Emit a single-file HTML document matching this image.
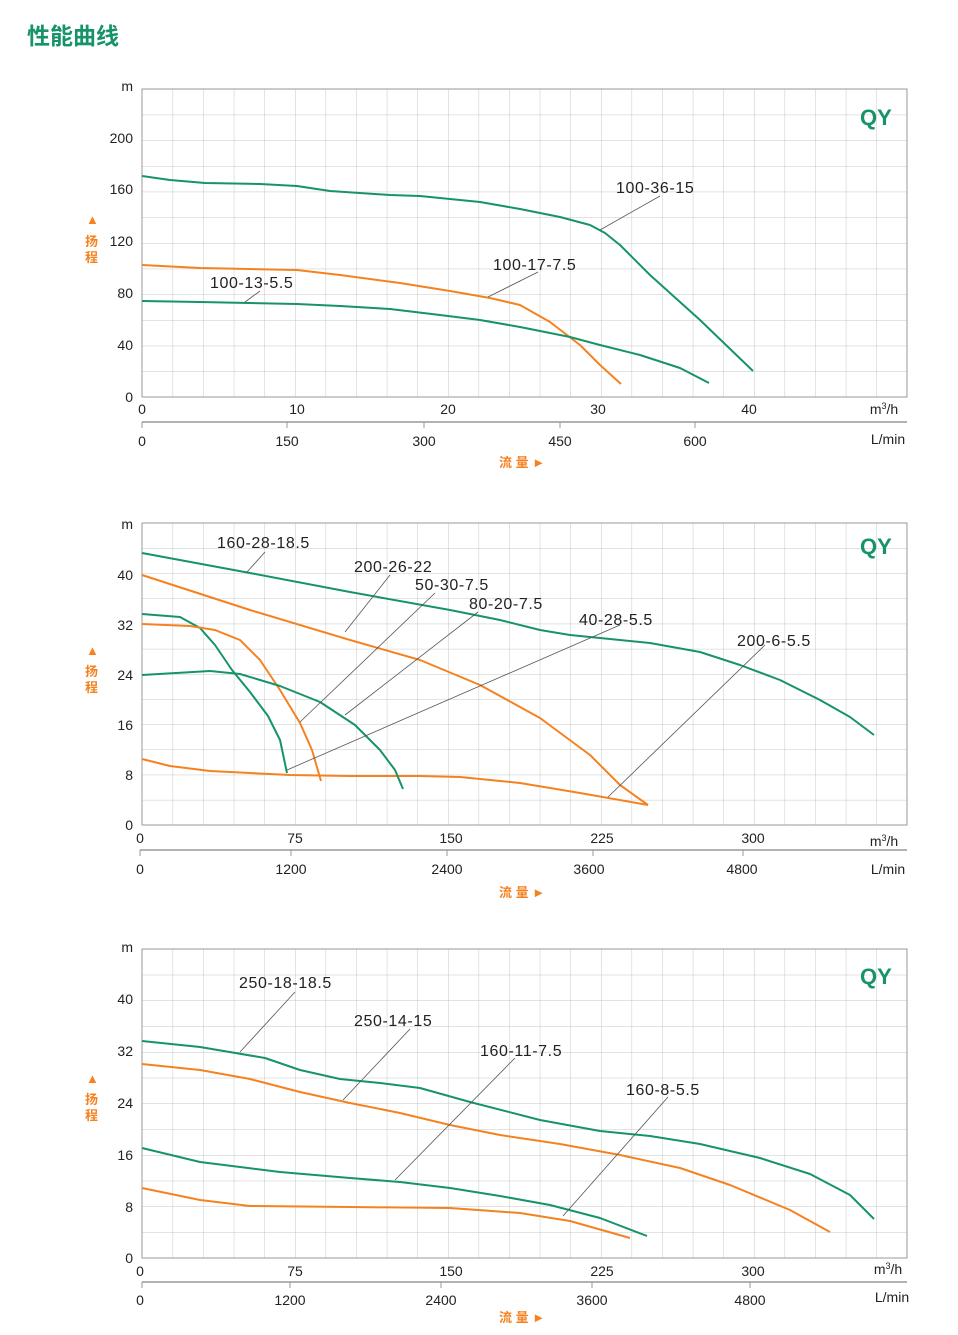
<!DOCTYPE html>
<html><head><meta charset="utf-8"><style>
html,body{margin:0;padding:0;background:#fff;}
svg{display:block;}
text{font-family:"Liberation Sans","Noto Sans CJK SC",sans-serif;fill:#222;}
.g{fill:none;stroke:#17936a;stroke-width:2;stroke-linejoin:round;}
.o{fill:none;stroke:#f58220;stroke-width:2;stroke-linejoin:round;}
.ld{stroke:#555;stroke-width:0.8;}
.yl{font-size:14px;text-anchor:end;}
.xl{font-size:14px;text-anchor:middle;}
.lb{font-size:16px;letter-spacing:0.6px;}
.qy{font-size:22px;font-weight:bold;fill:#17936a;}
.cn{font-size:13px;font-weight:bold;fill:#f58220;font-family:"Liberation Sans","Noto Sans CJK SC",sans-serif;}
</style></head><body>
<svg width="958" height="1335" viewBox="0 0 958 1335" xmlns="http://www.w3.org/2000/svg">
<defs>
<pattern id="p1" x="142" y="89" width="30.6" height="25.67" patternUnits="userSpaceOnUse"><path d="M0 0V25.67M0 0H30.6" stroke="#c6c6c6" stroke-width="1" fill="none"/></pattern>
<pattern id="p2" x="142" y="523" width="30.6" height="25.17" patternUnits="userSpaceOnUse"><path d="M0 0V25.17M0 0H30.6" stroke="#c6c6c6" stroke-width="1" fill="none"/></pattern>
<pattern id="p3" x="142" y="949" width="30.6" height="25.75" patternUnits="userSpaceOnUse"><path d="M0 0V25.75M0 0H30.6" stroke="#c6c6c6" stroke-width="1" fill="none"/></pattern>
</defs>
<text x="27" y="44" style="font-size:23px;font-weight:bold;fill:#17936a;font-family:'Liberation Sans','Noto Sans CJK SC',sans-serif">性能曲线</text>

<!-- Chart 1 -->
<rect x="142" y="89" width="765" height="308" fill="url(#p1)" stroke="#999" stroke-width="1"/>
<line x1="142" y1="422" x2="907" y2="422" stroke="#999" stroke-width="1.5"/>
<g stroke="#999"><line x1="142" y1="422" x2="142" y2="428"/><line x1="287" y1="422" x2="287" y2="428"/><line x1="424" y1="422" x2="424" y2="428"/><line x1="560" y1="422" x2="560" y2="428"/><line x1="695" y1="422" x2="695" y2="428"/></g>
<text class="yl" x="133" y="91">m</text><text class="yl" x="133" y="143">200</text><text class="yl" x="133" y="194">160</text><text class="yl" x="133" y="246">120</text><text class="yl" x="133" y="298">80</text><text class="yl" x="133" y="350">40</text><text class="yl" x="133" y="402">0</text>
<text class="xl" x="142" y="414">0</text><text class="xl" x="297" y="414">10</text><text class="xl" x="448" y="414">20</text><text class="xl" x="598" y="414">30</text><text class="xl" x="749" y="414">40</text><text class="xl" x="884" y="414">m<tspan dy="-5" font-size="9">3</tspan><tspan dy="5">/h</tspan></text>
<text class="xl" x="142" y="446">0</text><text class="xl" x="287" y="446">150</text><text class="xl" x="424" y="446">300</text><text class="xl" x="560" y="446">450</text><text class="xl" x="695" y="446">600</text><text class="xl" x="888" y="444">L/min</text>
<text class="cn" x="86" y="224">▲</text><text class="cn" x="85" y="246">扬</text><text class="cn" x="85" y="262">程</text>
<text class="cn" x="499" y="467">流 量 ►</text>
<text class="qy" x="860" y="125">QY</text>
<polyline class="g" points="142,176 170,180 205,183 260,184 297,186 330,191 390,195 420,196 450,199 480,202 520,209 560,217 590,225 605,233 620,245 650,275 700,320 753,371"/>
<polyline class="o" points="142,265 200,268 297,270 340,275 400,283 450,291 490,298 520,305 550,322 580,345 600,365 621,384"/>
<polyline class="g" points="142,301 200,302 297,304 340,306 390,309 440,315 480,320 520,327 570,337 600,345 640,355 680,368 709,383"/>
<line class="ld" x1="660" y1="196" x2="600" y2="230"/><text class="lb" x="616" y="193">100-36-15</text>
<line class="ld" x1="538" y1="272" x2="488" y2="297"/><text class="lb" x="493" y="270">100-17-7.5</text>
<line class="ld" x1="260" y1="291" x2="245" y2="302"/><text class="lb" x="210" y="288">100-13-5.5</text>

<!-- Chart 2 -->
<rect x="142" y="523" width="765" height="302" fill="url(#p2)" stroke="#999" stroke-width="1"/>
<line x1="140" y1="850" x2="907" y2="850" stroke="#999" stroke-width="1.5"/>
<g stroke="#999"><line x1="140" y1="850" x2="140" y2="856"/><line x1="291" y1="850" x2="291" y2="856"/><line x1="447" y1="850" x2="447" y2="856"/><line x1="593" y1="850" x2="593" y2="856"/><line x1="743" y1="850" x2="743" y2="856"/></g>
<text class="yl" x="133" y="529">m</text><text class="yl" x="133" y="580">40</text><text class="yl" x="133" y="630">32</text><text class="yl" x="133" y="680">24</text><text class="yl" x="133" y="730">16</text><text class="yl" x="133" y="780">8</text><text class="yl" x="133" y="830">0</text>
<text class="xl" x="140" y="843">0</text><text class="xl" x="295" y="843">75</text><text class="xl" x="451" y="843">150</text><text class="xl" x="602" y="843">225</text><text class="xl" x="753" y="843">300</text><text class="xl" x="884" y="846">m<tspan dy="-5" font-size="9">3</tspan><tspan dy="5">/h</tspan></text>
<text class="xl" x="140" y="874">0</text><text class="xl" x="291" y="874">1200</text><text class="xl" x="447" y="874">2400</text><text class="xl" x="589" y="874">3600</text><text class="xl" x="742" y="874">4800</text><text class="xl" x="888" y="874">L/min</text>
<text class="cn" x="86" y="655">▲</text><text class="cn" x="85" y="676">扬</text><text class="cn" x="85" y="692">程</text>
<text class="cn" x="499" y="897">流 量 ►</text>
<text class="qy" x="860" y="554">QY</text>
<polyline class="g" points="142,553 250,573 350,592 450,610 500,620 540,630 570,635 600,638 650,643 700,652 740,665 780,680 820,700 850,717 874,735"/>
<polyline class="o" points="142,575 250,610 350,640 420,660 480,685 540,718 590,755 620,785 648,805"/>
<polyline class="o" points="142,759 170,766 210,771 290,775 350,776 420,776 460,777 520,783 580,793 648,805"/>
<polyline class="g" points="142,614 180,617 200,628 215,645 232,670 250,692 268,716 280,740 287,773"/>
<polyline class="o" points="142,624 190,626 215,630 240,640 260,660 280,690 300,723 312,750 321,781"/>
<polyline class="g" points="142,675 210,671 240,674 280,686 320,702 355,725 380,750 395,770 403,789"/>
<line class="ld" x1="265" y1="552" x2="247" y2="572"/><text class="lb" x="217" y="548">160-28-18.5</text>
<line class="ld" x1="390" y1="575" x2="345" y2="632"/><text class="lb" x="354" y="572">200-26-22</text>
<line class="ld" x1="435" y1="593" x2="300" y2="722"/><text class="lb" x="415" y="590">50-30-7.5</text>
<line class="ld" x1="478" y1="612" x2="345" y2="715"/><text class="lb" x="469" y="609">80-20-7.5</text>
<line class="ld" x1="620" y1="625" x2="287" y2="770"/><text class="lb" x="579" y="625">40-28-5.5</text>
<line class="ld" x1="765" y1="645" x2="608" y2="797"/><text class="lb" x="737" y="646">200-6-5.5</text>

<!-- Chart 3 -->
<rect x="142" y="949" width="765" height="309" fill="url(#p3)" stroke="#999" stroke-width="1"/>
<line x1="142" y1="1282" x2="907" y2="1282" stroke="#999" stroke-width="1.5"/>
<g stroke="#999"><line x1="142" y1="1282" x2="142" y2="1288"/><line x1="290" y1="1282" x2="290" y2="1288"/><line x1="441" y1="1282" x2="441" y2="1288"/><line x1="592" y1="1282" x2="592" y2="1288"/><line x1="750" y1="1282" x2="750" y2="1288"/></g>
<text class="yl" x="133" y="952">m</text><text class="yl" x="133" y="1004">40</text><text class="yl" x="133" y="1056">32</text><text class="yl" x="133" y="1108">24</text><text class="yl" x="133" y="1160">16</text><text class="yl" x="133" y="1212">8</text><text class="yl" x="133" y="1263">0</text>
<text class="xl" x="140" y="1276">0</text><text class="xl" x="295" y="1276">75</text><text class="xl" x="451" y="1276">150</text><text class="xl" x="602" y="1276">225</text><text class="xl" x="753" y="1276">300</text><text class="xl" x="888" y="1274">m<tspan dy="-5" font-size="9">3</tspan><tspan dy="5">/h</tspan></text>
<text class="xl" x="140" y="1305">0</text><text class="xl" x="290" y="1305">1200</text><text class="xl" x="441" y="1305">2400</text><text class="xl" x="592" y="1305">3600</text><text class="xl" x="750" y="1305">4800</text><text class="xl" x="892" y="1302">L/min</text>
<text class="cn" x="86" y="1083">▲</text><text class="cn" x="85" y="1104">扬</text><text class="cn" x="85" y="1120">程</text>
<text class="cn" x="499" y="1322">流 量 ►</text>
<text class="qy" x="860" y="984">QY</text>
<polyline class="g" points="142,1041 200,1047 265,1058 300,1070 340,1079 380,1083 420,1088 470,1102 540,1120 600,1131 650,1136 700,1144 760,1158 810,1174 850,1195 874,1219"/>
<polyline class="o" points="142,1064 200,1070 250,1079 300,1092 350,1103 400,1113 450,1125 500,1135 560,1144 620,1155 680,1168 730,1185 790,1210 830,1232"/>
<polyline class="g" points="142,1148 200,1162 280,1172 350,1178 400,1182 450,1188 500,1196 550,1205 600,1218 647,1236"/>
<polyline class="o" points="142,1188 200,1200 250,1206 350,1207 450,1208 520,1213 570,1221 630,1238"/>
<line class="ld" x1="295" y1="992" x2="240" y2="1052"/><text class="lb" x="239" y="988">250-18-18.5</text>
<line class="ld" x1="410" y1="1029" x2="343" y2="1100"/><text class="lb" x="354" y="1026">250-14-15</text>
<line class="ld" x1="515" y1="1058" x2="395" y2="1180"/><text class="lb" x="480" y="1056">160-11-7.5</text>
<line class="ld" x1="668" y1="1097" x2="563" y2="1216"/><text class="lb" x="626" y="1095">160-8-5.5</text>
</svg>
</body></html>
